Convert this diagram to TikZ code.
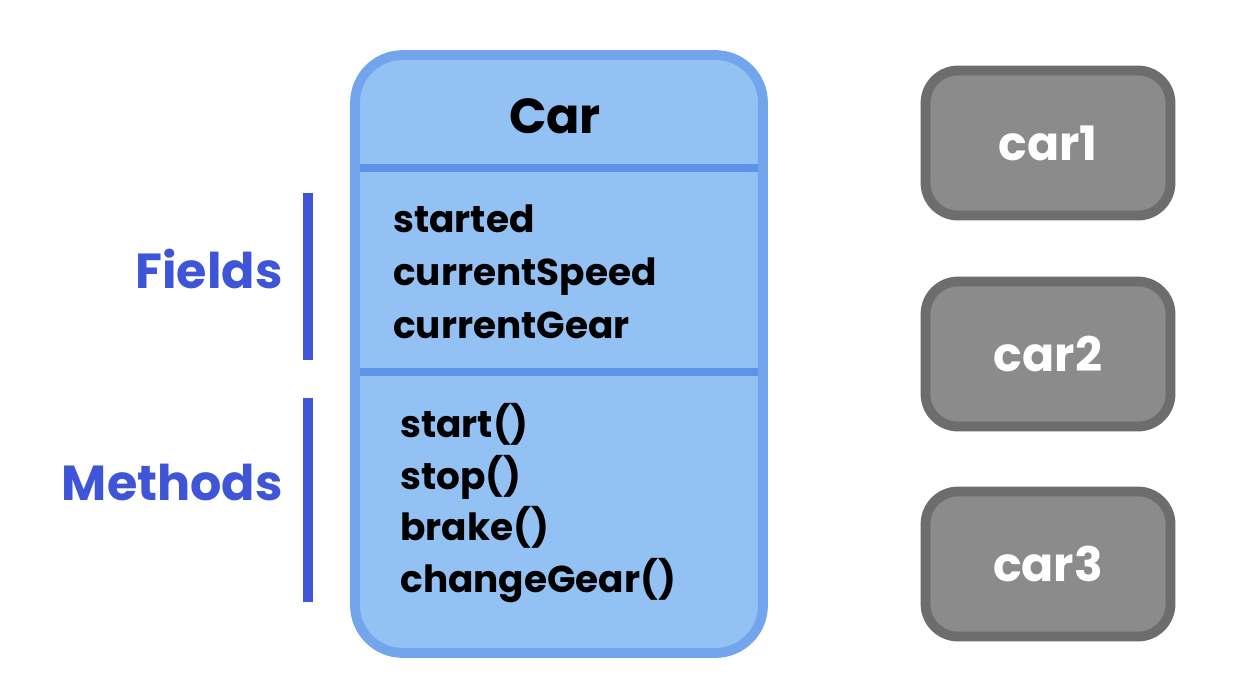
\documentclass[tikz,border=0pt]{standalone}
\usepackage{fontspec}
\setmainfont{Poppins}
\usepackage{xcolor}
\usepackage{tikz}
\usetikzlibrary{positioning,calc}
\definecolor{classfill}{RGB}{147, 193, 243}
\definecolor{classborder}{RGB}{114, 165, 235}
\definecolor{classdivider}{RGB}{93, 148, 232}
\definecolor{labelblue}{RGB}{61, 85, 214}
\definecolor{objfill}{RGB}{138, 139, 138}
\definecolor{objborder}{RGB}{109, 109, 109}

\begin{document}
\begin{tikzpicture}[
  x=0.02cm, y=-0.02cm,
  classbox/.style={rectangle, draw=classborder, fill=classfill, rounded corners=0.95cm, line width=5.6pt, minimum width=8.16cm, minimum height=11.96cm, inner sep=0pt},
  objbox/.style={rectangle, draw=objborder, fill=objfill, rounded corners=0.65cm, line width=5.6pt, minimum width=4.9cm, minimum height=2.9cm, inner sep=0pt},
  divider/.style={line width=4.5pt, color=classdivider},
  bracebar/.style={line width=5.6pt, color=labelblue},
  member/.style={anchor=base west, inner sep=0pt, font=\fontsize{21.3}{25}\selectfont\bfseries},
  sidelbl/.style={anchor=base east, inner sep=0pt, text=labelblue, font=\fontsize{28}{33}\selectfont\bfseries},
  objlbl/.style={text=white, font=\fontsize{27}{32}\selectfont\bfseries}
]
\useasboundingbox (0,0) rectangle (1256,694);

% Class Box
\node[classbox] (car) at (559, 354) {};
\node[anchor=base, inner sep=0pt, font=\fontsize{28}{33}\selectfont\bfseries] (title) at (555, 133) {Car};

% Compartment Dividers
\coordinate (d1l) at (360, 168);
\coordinate (d1r) at (758, 168);
\coordinate (d2l) at (360, 372);
\coordinate (d2r) at (758, 372);
\draw[divider] (d1l) -- (d1r);
\draw[divider] (d2l) -- (d2r);

% Fields
\node[member] (f1) at (393, 232) {started};
\node[member] (f2) at (393, 285) {currentSpeed};
\node[member] (f3) at (393, 338) {currentGear};

% Methods
\node[member] (m1) at (400, 437) {start()};
\node[member] (m2) at (400, 489) {stop()};
\node[member] (m3) at (400, 540) {brake()};
\node[member] (m4) at (400, 592) {changeGear()};

% Side Labels and Bars
\node[sidelbl] (fields) at (283, 288) {Fields};
\node[sidelbl] (methods) at (283, 500) {Methods};
\coordinate (fbtop) at (308, 193);
\coordinate (fbbot) at (308, 360);
\coordinate (mbtop) at (308, 398);
\coordinate (mbbot) at (308, 602);
\draw[bracebar] (fbtop) -- (fbbot);
\draw[bracebar] (mbtop) -- (mbbot);

% Object Instances
\node[objbox] (car1) at (1048, 143) {};
\node[objbox] (car2) at (1048, 354) {};
\node[objbox] (car3) at (1048, 564) {};
\node[objlbl] at (car1) {car1};
\node[objlbl] at (car2) {car2};
\node[objlbl] at (car3) {car3};

\end{tikzpicture}
\end{document}
